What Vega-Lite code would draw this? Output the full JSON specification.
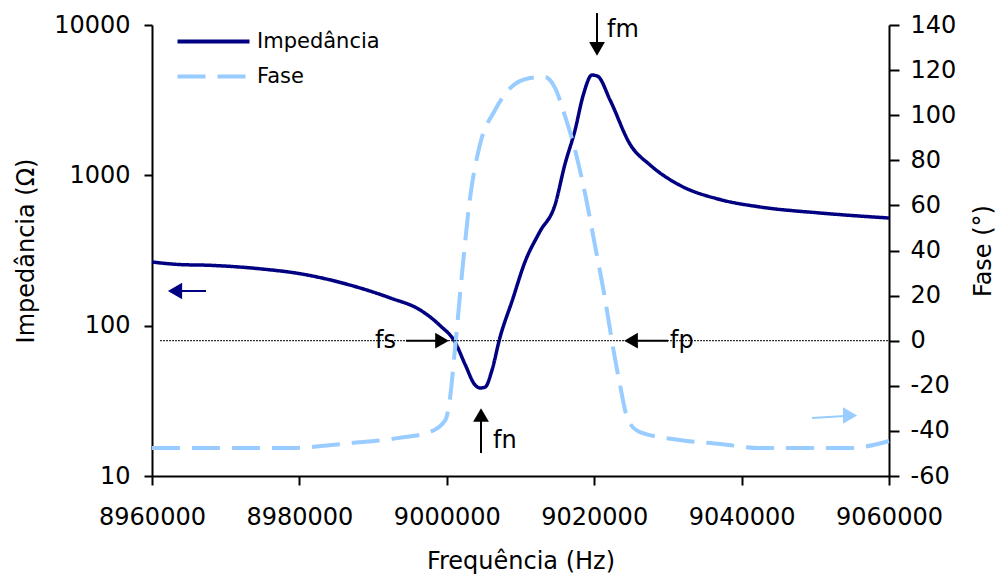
{
  "$schema": "https://vega.github.io/schema/vega-lite/v6.json",
  "width": 737,
  "height": 451,
  "autosize": "none",
  "padding": {"left": 152, "top": 25, "right": 112, "bottom": 99},
  "background": "white",
  "config": {
    "view": {"stroke": null},
    "font": "DejaVu Sans",
    "axis": {"grid": false, "domainColor": "black", "tickColor": "black", "labelColor": "black", "titleColor": "black", "domainWidth": 2, "tickWidth": 2, "labelFontSize": 24, "titleFontSize": 24, "titleFontWeight": "normal", "labelFont": "DejaVu Sans", "titleFont": "DejaVu Sans", "labelOverlap": false, "labelFlush": false},
    "legend": {"labelFont": "DejaVu Sans"}
  },
  "datasets": {
    "imp": [
      {"freq": 8960000, "z": 265}, {"freq": 8963800, "z": 255}, {"freq": 8967900, "z": 252},
      {"freq": 8975000, "z": 238}, {"freq": 8980000, "z": 222}, {"freq": 8986900, "z": 186},
      {"freq": 8992300, "z": 153}, {"freq": 8996400, "z": 127}, {"freq": 8999100, "z": 100},
      {"freq": 9001100, "z": 78}, {"freq": 9002500, "z": 55}, {"freq": 9003800, "z": 40.5},
      {"freq": 9004500, "z": 38.5}, {"freq": 9005200, "z": 39}, {"freq": 9006100, "z": 50},
      {"freq": 9007200, "z": 83}, {"freq": 9008900, "z": 148}, {"freq": 9010600, "z": 265},
      {"freq": 9012600, "z": 420}, {"freq": 9014700, "z": 640}, {"freq": 9016000, "z": 1170},
      {"freq": 9017400, "z": 2000}, {"freq": 9018500, "z": 3400}, {"freq": 9019700, "z": 4650},
      {"freq": 9020500, "z": 4550}, {"freq": 9022150, "z": 3170}, {"freq": 9024900, "z": 1600},
      {"freq": 9027600, "z": 1170}, {"freq": 9031600, "z": 860}, {"freq": 9037100, "z": 690},
      {"freq": 9042500, "z": 616}, {"freq": 9050600, "z": 562}, {"freq": 9060000, "z": 520}
    ],
    "phase": [
      {"freq": 8960000, "p": -47.6}, {"freq": 8978700, "p": -47.6}, {"freq": 8986900, "p": -45.4},
      {"freq": 8993600, "p": -43.1}, {"freq": 8997700, "p": -40.5}, {"freq": 8999800, "p": -35.2},
      {"freq": 9000400, "p": -26.3}, {"freq": 9001100, "p": -4}, {"freq": 9002100, "p": 31},
      {"freq": 9003100, "p": 62}, {"freq": 9004500, "p": 87}, {"freq": 9006500, "p": 102},
      {"freq": 9008600, "p": 112}, {"freq": 9011300, "p": 116.5}, {"freq": 9013300, "p": 117},
      {"freq": 9014700, "p": 112}, {"freq": 9016000, "p": 100}, {"freq": 9017400, "p": 84.6},
      {"freq": 9018800, "p": 64.6}, {"freq": 9020100, "p": 42.4}, {"freq": 9021500, "p": 18},
      {"freq": 9022400, "p": 0}, {"freq": 9023500, "p": -19.6}, {"freq": 9024600, "p": -35.2},
      {"freq": 9026200, "p": -40.5}, {"freq": 9031600, "p": -44}, {"freq": 9037100, "p": -45.8},
      {"freq": 9042500, "p": -47.6}, {"freq": 9054700, "p": -47.6}, {"freq": 9060000, "p": -44.5}
    ],
    "zeroline": [{"x1": 8961086, "x2": 9060000, "y": 0}],
    "blackArrows": [
      {"x1": 9020382, "x2": 9020382, "y1": 145.3, "y2": 129.8},
      {"x1": 8994465, "x2": 8999079, "y1": 0, "y2": 0},
      {"x1": 9030016, "x2": 9025267, "y1": 0, "y2": 0},
      {"x1": 9004642, "x2": 9004642, "y1": -49.8, "y2": -34.7}
    ],
    "blackHeads": [
      {"x": 9020382, "y": 129.4, "dir": "down"},
      {"x": 8999350, "y": 0, "dir": "right"},
      {"x": 9024996, "y": 0, "dir": "left"},
      {"x": 9004642, "y": -32.95, "dir": "up"}
    ],
    "navyArrow": [{"x1": 8967327, "x2": 8963799, "y1": 22.04, "y2": 22.04}],
    "navyHead": [{"x": 8963121, "y": 22.04, "dir": "left"}],
    "blueArrow": [{"x1": 9049555, "x2": 9054033, "y1": -34.28, "y2": -33.39}],
    "blueHead": [{"x": 9054712, "y": -33.17, "dir": "right"}],
    "labels": [
      {"t": "fm", "x": 9021739, "y": 137.8},
      {"t": "fs", "x": 8990259, "y": 0},
      {"t": "fp", "x": 9030287, "y": 0},
      {"t": "fn", "x": 9006270, "y": -44.5}
    ]
  },
  "layer": [
    {
      "layer": [
        {
          "data": {"name": "imp"},
          "mark": {"type": "line", "strokeWidth": 3.5, "interpolate": "monotone"},
          "encoding": {
            "x": {"field": "freq", "type": "quantitative",
              "scale": {"domain": [8960000, 9060000], "nice": false, "zero": false},
              "axis": {"values": [8960000, 8980000, 9000000, 9020000, 9040000, 9060000], "format": "d", "title": "Frequência (Hz)", "tickSize": 9, "labelPadding": 20, "titlePadding": 20}},
            "y": {"field": "z", "type": "quantitative",
              "scale": {"type": "log", "domain": [10, 10000], "nice": false},
              "axis": {"orient": "left", "values": [10, 100, 1000, 10000], "format": "d", "title": "Impedância (Ω)", "tickSize": 8, "labelPadding": 14, "titlePadding": 15}},
            "color": {"datum": "Impedância", "type": "nominal",
              "scale": {"domain": ["Impedância", "Fase"], "range": ["#000080", "#99CCFF"]},
              "legend": {"orient": "none", "legendX": 51, "legendY": 6, "title": null, "symbolType": "M-7.2,0H7.2", "symbolSize": 100, "symbolStrokeWidth": 4, "labelFontSize": 21, "labelOffset": 33, "padding": 0, "rowPadding": 13}},
            "strokeDash": {"datum": "Impedância", "type": "nominal",
              "scale": {"domain": ["Impedância", "Fase"], "range": [[1, 0], [28, 12]]},
              "legend": {"orient": "none", "legendX": 51, "legendY": 6, "title": null, "symbolType": "M-7.2,0H7.2", "symbolSize": 100, "symbolStrokeWidth": 4, "labelFontSize": 21, "labelOffset": 33, "padding": 0, "rowPadding": 13}}
          }
        }
      ]
    },
    {
      "layer": [
        {
          "data": {"name": "phase"},
          "mark": {"type": "line", "strokeWidth": 4, "interpolate": "monotone"},
          "encoding": {
            "x": {"field": "freq", "type": "quantitative"},
            "y": {"field": "p", "type": "quantitative",
              "scale": {"domain": [-60, 140], "nice": false, "zero": false},
              "axis": {"orient": "right", "values": [-60, -40, -20, 0, 20, 40, 60, 80, 100, 120, 140], "labelExpr": "datum.value < 0 ? '-' + abs(datum.value) : '' + datum.value", "title": "Fase (°)", "titleAngle": 270, "tickSize": 10, "labelPadding": 11, "titlePadding": 40}},
            "color": {"datum": "Fase", "type": "nominal"},
            "strokeDash": {"datum": "Fase", "type": "nominal"}
          }
        },
        {
          "data": {"name": "zeroline"},
          "mark": {"type": "rule", "color": "black", "strokeWidth": 1, "strokeDash": [2, 1]},
          "encoding": {
            "x": {"field": "x1", "type": "quantitative"},
            "x2": {"field": "x2"},
            "y": {"field": "y", "type": "quantitative"}
          }
        },
        {
          "data": {"name": "blackArrows"},
          "mark": {"type": "rule", "color": "black", "strokeWidth": 2},
          "encoding": {
            "x": {"field": "x1", "type": "quantitative"},
            "x2": {"field": "x2"},
            "y": {"field": "y1", "type": "quantitative"},
            "y2": {"field": "y2"}
          }
        },
        {
          "data": {"name": "blackHeads"},
          "mark": {"type": "point", "filled": true, "color": "black", "opacity": 1, "size": 250},
          "encoding": {
            "x": {"field": "x", "type": "quantitative"},
            "y": {"field": "y", "type": "quantitative"},
            "shape": {"field": "dir", "type": "nominal", "legend": null,
              "scale": {"domain": ["up", "down", "left", "right"], "range": ["triangle-up", "triangle-down", "triangle-left", "triangle-right"]}}
          }
        },
        {
          "data": {"name": "navyArrow"},
          "mark": {"type": "rule", "color": "#000080", "strokeWidth": 2},
          "encoding": {
            "x": {"field": "x1", "type": "quantitative"},
            "x2": {"field": "x2"},
            "y": {"field": "y1", "type": "quantitative"},
            "y2": {"field": "y2"}
          }
        },
        {
          "data": {"name": "navyHead"},
          "mark": {"type": "point", "filled": true, "color": "#000080", "opacity": 1, "size": 270},
          "encoding": {
            "x": {"field": "x", "type": "quantitative"},
            "y": {"field": "y", "type": "quantitative"},
            "shape": {"field": "dir", "type": "nominal", "legend": null}
          }
        },
        {
          "data": {"name": "blueArrow"},
          "mark": {"type": "rule", "color": "#99CCFF", "strokeWidth": 2},
          "encoding": {
            "x": {"field": "x1", "type": "quantitative"},
            "x2": {"field": "x2"},
            "y": {"field": "y1", "type": "quantitative"},
            "y2": {"field": "y2"}
          }
        },
        {
          "data": {"name": "blueHead"},
          "mark": {"type": "point", "filled": true, "color": "#99CCFF", "opacity": 1, "size": 270},
          "encoding": {
            "x": {"field": "x", "type": "quantitative"},
            "y": {"field": "y", "type": "quantitative"},
            "shape": {"field": "dir", "type": "nominal", "legend": null}
          }
        },
        {
          "data": {"name": "labels"},
          "mark": {"type": "text", "color": "black", "fontSize": 24, "align": "left", "baseline": "middle", "font": "DejaVu Sans"},
          "encoding": {
            "x": {"field": "x", "type": "quantitative"},
            "y": {"field": "y", "type": "quantitative"},
            "text": {"field": "t"}
          }
        }
      ]
    }
  ],
  "resolve": {"scale": {"y": "independent"}}
}
